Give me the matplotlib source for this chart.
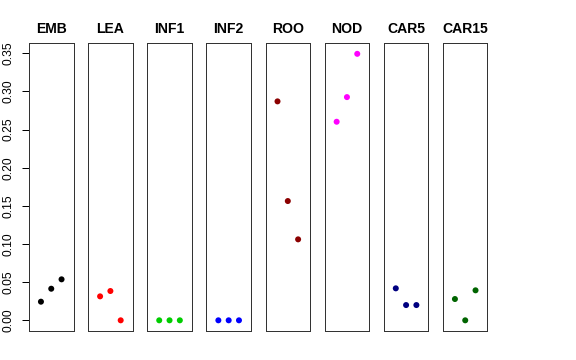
import matplotlib
matplotlib.use("Agg")
import matplotlib.pyplot as plt

plt.rcParams['font.family'] = ['Liberation Sans', 'DejaVu Sans']

# tissues and their three values each
tissues = ["EMB", "LEA", "INF1", "INF2", "ROO", "NOD", "CAR5", "CAR15"]
colors = ["black", "red", "#00CD00", "blue", "#8B0000", "magenta", "#000080", "#006400"]
values = [
    [0.0244, 0.0414, 0.0537],
    [0.0314, 0.0384, 0.0],
    [0.0, 0.0, 0.0],
    [0.0, 0.0, 0.0],
    [0.2869, 0.1563, 0.1061],
    [0.2602, 0.2925, 0.3492],
    [0.0419, 0.0200, 0.0200],
    [0.0279, 0.0, 0.0393],
]
xs = [1, 2, 3]
yticks = [0.00, 0.05, 0.10, 0.15, 0.20, 0.25, 0.30, 0.35]

W, H = 576, 360
fig = plt.figure(figsize=(8, 5), dpi=72)

left0, step, width = 29, 59.14, 44.5
top, bottom = 43.3, 331

for i, (name, col, vals) in enumerate(zip(tissues, colors, values)):
    left = left0 + step * i
    ax = fig.add_axes([left / W, (H - bottom) / H, width / W, (bottom - top) / H])
    ax.scatter(xs, vals, s=36, color=col, edgecolors="none", zorder=3)
    ax.set_xlim(-0.16, 4.16)
    ax.set_ylim(-0.014, 0.363)
    ax.set_xticks([])
    for sp in ax.spines.values():
        sp.set_linewidth(1.0)
        sp.set_color("#333333")
    ax.text(0.5, 1.0 + 14 / (bottom - top), name, transform=ax.transAxes,
            ha="center", va="center", fontsize=14, fontweight="bold")
    if i == 0:
        ax.set_yticks(yticks)
        ax.set_yticklabels(["%.2f" % v for v in yticks], rotation=90, va="center", fontsize=12)
        ax.tick_params(axis="y", length=7, width=1.0, pad=7)
    else:
        ax.set_yticks([])

fig.savefig("out.png", dpi=72)
